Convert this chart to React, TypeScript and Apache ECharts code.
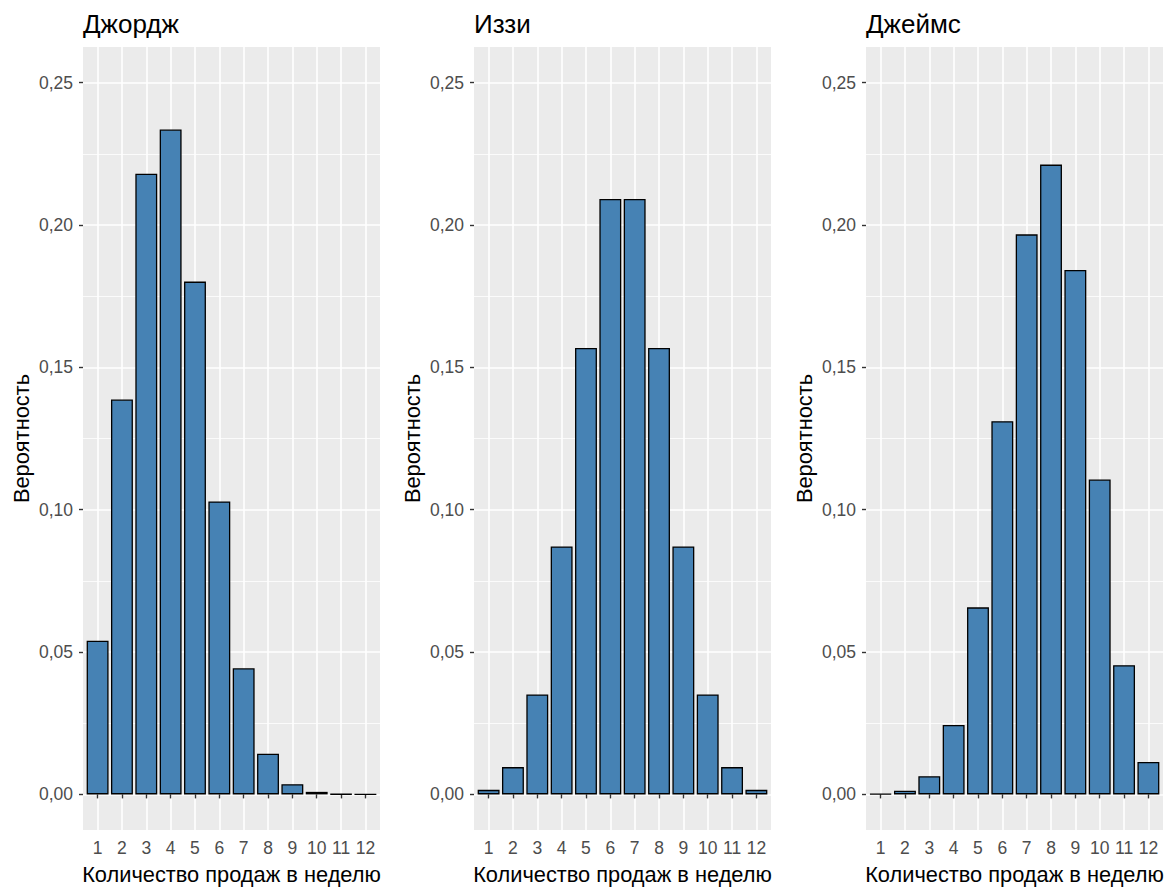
import React, { useEffect, useRef } from 'react';
import * as echarts from 'echarts';

// probabilities of weekly sales
const sales = [1, 2, 3, 4, 5, 6, 7, 8, 9, 10, 11, 12];
const george = [0.054, 0.1387, 0.218, 0.2335, 0.1801, 0.1029, 0.0443, 0.0143, 0.0036, 0.0009, 0.0001, 0.00001];
const izzi = [0.0016, 0.0096, 0.0351, 0.0871, 0.1568, 0.2091, 0.2091, 0.1568, 0.0871, 0.0351, 0.0096, 0.0016];
const james = [0.0002, 0.0013, 0.0064, 0.0244, 0.0657, 0.1311, 0.1967, 0.2212, 0.1842, 0.1106, 0.0454, 0.0114];

const names = ['Джордж', 'Иззи', 'Джеймс'];
const majorTicks = [0, 0.05, 0.1, 0.15, 0.2, 0.25];
const minorTicks = [0.025, 0.075, 0.125, 0.175, 0.225];

const FONT = '"Liberation Sans", Arial, sans-serif';
const panelLeft = [83, 474, 866];

export default function App() {
    const chartRef = useRef<HTMLDivElement>(null);

    useEffect(() => {
        document.body.style.margin = '0';
        const chart = echarts.init(chartRef.current!, null, { renderer: 'svg' });
        const values = [george, izzi, james];

        const grids = panelLeft.map((left) => ({
            left,
            top: 47,
            width: 297,
            height: 783,
            show: true,
            backgroundColor: '#EBEBEB',
            borderWidth: 0,
        }));

        const titles = names.map((text, i) => ({
            text,
            left: panelLeft[i] - 5,
            top: 6,
            textStyle: { fontFamily: FONT, fontSize: 26, fontWeight: 'normal', color: '#000' },
        }));

        const xAxes = panelLeft.map((_, i) => ({
            type: 'value',
            gridIndex: i,
            min: 0.4,
            max: 12.6,
            name: 'Количество продаж в неделю',
            nameLocation: 'middle',
            nameGap: 33,
            nameTextStyle: { fontFamily: FONT, fontSize: 21.8, color: '#000' },
            axisLine: { show: false },
            axisTick: { show: true, customValues: sales, length: 4, lineStyle: { color: '#333', width: 1.4 } },
            axisLabel: {
                customValues: sales,
                color: '#4d4d4d',
                fontFamily: FONT,
                fontSize: 17.5,
                margin: 9,
                formatter: (v: number) => String(v),
            },
            splitLine: { show: true, lineStyle: { color: '#fff', width: 1.6 } },
        }));

        const yAxes: any[] = [];
        panelLeft.forEach((_, i) => {
            yAxes.push({
                type: 'value',
                gridIndex: i,
                position: 'left',
                min: -0.0125,
                max: 0.2625,
                name: 'Вероятность',
                nameLocation: 'middle',
                nameGap: 51,
                nameRotate: 90,
                nameTextStyle: { fontFamily: FONT, fontSize: 21.8, color: '#000' },
                axisLine: { show: false },
                axisTick: { show: true, customValues: majorTicks, length: 4, lineStyle: { color: '#333', width: 1.4 } },
                axisLabel: {
                    customValues: majorTicks,
                    color: '#4d4d4d',
                    fontFamily: FONT,
                    fontSize: 17.5,
                    margin: 10,
                    formatter: (v: number) => v.toFixed(2).replace('.', ','),
                },
                splitLine: { show: true, lineStyle: { color: '#fff', width: 1.6 } },
            });
            yAxes.push({
                type: 'value',
                gridIndex: i,
                position: 'right',
                min: -0.0125,
                max: 0.2625,
                axisLine: { show: false },
                axisTick: { show: false, customValues: minorTicks },
                axisLabel: { show: false, customValues: minorTicks },
                splitLine: { show: true, lineStyle: { color: '#fff', width: 0.8 } },
            });
        });

        const series = values.map((vals, i) => ({
            type: 'bar',
            xAxisIndex: i,
            yAxisIndex: i * 2,
            barWidth: '90%',
            data: sales.map((s, k) => [s, vals[k]]),
            itemStyle: { color: '#4682B4', borderColor: '#000', borderWidth: 1.3 },
        }));

        chart.setOption({
            animation: false,
            backgroundColor: '#fff',
            textStyle: { fontFamily: FONT },
            title: titles,
            grid: grids,
            xAxis: xAxes,
            yAxis: yAxes,
            series,
        });

        return () => {
            chart.dispose();
        };
    }, []);

    return <div ref={chartRef} style={{ width: 1174, height: 896 }} />;
}
